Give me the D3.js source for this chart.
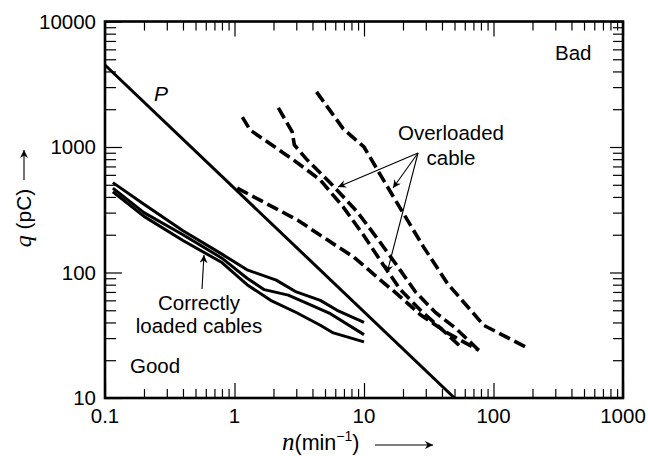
<!DOCTYPE html>
<html>
<head>
<meta charset="utf-8">
<script src="https://cdn.jsdelivr.net/npm/d3@7"></script>
<style>
  body { margin: 0; background: #fff; }
  text { font-family: "Liberation Sans", Arial, Helvetica, sans-serif; }
</style>
</head>
<body>
<svg id="chart" width="648" height="456"></svg>
<script>
// Axis ticks
const xTickValues = [0.1, 1, 10, 100, 1000];
const yTickValues = [10, 100, 1000, 10000];
const xTickLabels = ["0.1", "1", "10", "100", "1000"];
const yTickLabels = ["10", "100", "1000", "10000"];

// Boundary line P
const lineP = [[0.1, 4500], [50, 10]];

// Correctly loaded cables (q in pC vs n in 1/min)
const correct1 = [[0.115, 520], [0.2, 350], [0.4, 215], [0.8, 140], [1.25, 105], [2.1, 87], [3.0, 70], [4.6, 60], [6.2, 50], [10, 40]];
const correct2 = [[0.115, 470], [0.2, 300], [0.4, 200], [0.8, 130], [1.25, 90], [1.7, 73], [2.6, 66], [3.6, 57], [5.5, 47], [10, 32]];
const correct3 = [[0.115, 440], [0.2, 280], [0.4, 180], [0.8, 120], [1.25, 80], [1.9, 60], [3.0, 48], [4.6, 38], [5.8, 33], [10, 28]];

// Overloaded cables
const over1 = [[1.15, 1730], [1.32, 1365], [1.79, 1100], [2.85, 790], [4.6, 546], [6.9, 333], [9.9, 199], [14.1, 115], [19.1, 73], [27.3, 50], [39, 36], [56, 25.5]];
const over2 = [[2.18, 2050], [2.47, 1640], [2.79, 1320], [2.9, 1037], [3.65, 787], [5.5, 517], [8.9, 303], [12.9, 182], [18.5, 109], [25, 70], [35.6, 48], [51, 36], [77, 24]];
const over3 = [[4.3, 2750], [6.9, 1400], [10, 1000], [15.2, 480], [28.8, 160], [44, 82], [84, 38], [177, 25.5]];
const over4 = [[1.05, 470], [1.67, 365], [3.06, 262], [5.2, 182], [8.3, 133], [12.6, 92], [19.1, 64], [27.3, 46], [42.7, 33.6], [77, 24]];

const svg = d3.select("#chart");
const plotLeft = 105, plotRight = 623, plotTop = 21.5, plotBottom = 398;

const x = d3.scaleLog().domain([0.1, 1000]).range([plotLeft, plotRight]);
const y = d3.scaleLog().domain([10, 10000]).range([plotBottom, plotTop]);

function minorTicks(lo, hi) {
  const out = [];
  for (let d = lo; d < hi; d *= 10) {
    for (let k = 2; k <= 9; k++) out.push(d * k);
  }
  return out;
}
const xMinor = minorTicks(0.1, 1000);
const yMinor = minorTicks(10, 10000);

// Clip region for the data
const defs = svg.append("defs");
defs.append("clipPath").attr("id", "plot")
  .append("rect").attr("x", plotLeft).attr("y", plotTop)
  .attr("width", plotRight - plotLeft).attr("height", plotBottom - plotTop);

// Arrowhead marker
defs.append("marker")
  .attr("id", "head").attr("viewBox", "0 0 10 10")
  .attr("refX", 10).attr("refY", 5)
  .attr("markerWidth", 10).attr("markerHeight", 8)
  .attr("markerUnits", "userSpaceOnUse")
  .attr("orient", "auto")
  .append("path").attr("d", "M0,0 L10,5 L0,10 L3,5 Z").attr("fill", "#000");

// Inward ticks on all four sides
function styleAxis(g) {
  g.select(".domain").remove();
  g.selectAll(".tick line").attr("stroke", "#000").attr("stroke-width", 1.2);
  g.selectAll(".tick text").remove();
}
svg.append("g").attr("transform", `translate(0,${plotBottom})`)
  .call(d3.axisBottom(x).tickValues(xMinor).tickSize(-9)).call(styleAxis);
svg.append("g").attr("transform", `translate(0,${plotBottom})`)
  .call(d3.axisBottom(x).tickValues(xTickValues).tickSize(-15)).call(styleAxis);
svg.append("g").attr("transform", `translate(0,${plotTop})`)
  .call(d3.axisTop(x).tickValues(xMinor).tickSize(-9)).call(styleAxis);
svg.append("g").attr("transform", `translate(0,${plotTop})`)
  .call(d3.axisTop(x).tickValues(xTickValues).tickSize(-15)).call(styleAxis);
svg.append("g").attr("transform", `translate(${plotLeft},0)`)
  .call(d3.axisLeft(y).tickValues(yMinor).tickSize(-11)).call(styleAxis);
svg.append("g").attr("transform", `translate(${plotLeft},0)`)
  .call(d3.axisLeft(y).tickValues(yTickValues).tickSize(-17)).call(styleAxis);
svg.append("g").attr("transform", `translate(${plotRight},0)`)
  .call(d3.axisRight(y).tickValues(yMinor).tickSize(-10)).call(styleAxis);
svg.append("g").attr("transform", `translate(${plotRight},0)`)
  .call(d3.axisRight(y).tickValues(yTickValues).tickSize(-13)).call(styleAxis);

// Frame
svg.append("rect").attr("x", plotLeft).attr("y", plotTop)
  .attr("width", plotRight - plotLeft).attr("height", plotBottom - plotTop)
  .attr("fill", "none").attr("stroke", "#000").attr("stroke-width", 2.6);

// Tick labels
svg.append("g").selectAll("text").data(xTickValues).join("text")
  .attr("x", d => x(d)).attr("y", 423)
  .attr("text-anchor", "middle").attr("font-size", 20.5)
  .text((d, i) => xTickLabels[i]);
svg.append("g").selectAll("text").data(yTickValues).join("text")
  .attr("x", 96).attr("y", d => y(d) + 7)
  .attr("text-anchor", "end").attr("font-size", 20.5)
  .text((d, i) => yTickLabels[i]);

// Data lines
const line = d3.line().x(d => x(d[0])).y(d => y(d[1]));
const plot = svg.append("g").attr("clip-path", "url(#plot)");

plot.append("path").datum(lineP).attr("d", line)
  .attr("fill", "none").attr("stroke", "#000").attr("stroke-width", 3);

[correct1, correct2, correct3].forEach(s => {
  plot.append("path").datum(s).attr("d", line)
    .attr("fill", "none").attr("stroke", "#000").attr("stroke-width", 3)
    .attr("stroke-linejoin", "round");
});

[over1, over2, over3, over4].forEach(s => {
  plot.append("path").datum(s).attr("d", line)
    .attr("fill", "none").attr("stroke", "#000").attr("stroke-width", 3.6)
    .attr("stroke-dasharray", "12,5");
});

// Annotations
function arrow(x1, y1, x2, y2) {
  svg.append("line").attr("x1", x1).attr("y1", y1).attr("x2", x2).attr("y2", y2)
    .attr("stroke", "#000").attr("stroke-width", 1.1)
    .attr("marker-end", "url(#head)");
}

svg.append("text").attr("x", 154).attr("y", 101)
  .attr("font-family", "'Liberation Serif', 'Times New Roman', serif")
  .attr("font-style", "italic").attr("font-size", 21).text("P");

svg.append("text").attr("x", 555).attr("y", 60).attr("font-size", 20.5).text("Bad");
svg.append("text").attr("x", 130).attr("y", 373).attr("font-size", 20.5).text("Good");

svg.append("text").attr("x", 451).attr("y", 140).attr("text-anchor", "middle")
  .attr("font-size", 20.5).text("Overloaded");
svg.append("text").attr("x", 451).attr("y", 165).attr("text-anchor", "middle")
  .attr("font-size", 20.5).text("cable");
arrow(418, 153, 338, 187);
arrow(418, 153, 393, 188);
arrow(418, 153, 387, 273);

svg.append("text").attr("x", 199).attr("y", 310).attr("text-anchor", "middle")
  .attr("font-size", 20.5).text("Correctly");
svg.append("text").attr("x", 199).attr("y", 333).attr("text-anchor", "middle")
  .attr("font-size", 20.5).text("loaded cables");
arrow(202, 289, 204, 255);

// Axis titles
const xt = svg.append("text").attr("x", 282).attr("y", 450).attr("font-size", 21.5);
xt.append("tspan").attr("font-family", "'Liberation Serif', 'Times New Roman', serif")
  .attr("font-style", "italic").attr("font-size", 25).text("n");
xt.append("tspan").text("(min");
xt.append("tspan").attr("font-size", 14).attr("dy", -9).text("−1");
xt.append("tspan").attr("dy", 9).text(")");
arrow(375, 445, 433, 445);

const yt = svg.append("text").attr("transform", "translate(31,218) rotate(-90)")
  .attr("text-anchor", "middle").attr("font-size", 21);
yt.append("tspan").attr("font-family", "'Liberation Serif', 'Times New Roman', serif")
  .attr("font-style", "italic").attr("font-size", 24).text("q");
yt.append("tspan").text(" (pC)");
arrow(24, 180, 24, 150);
</script>
</body>
</html>
